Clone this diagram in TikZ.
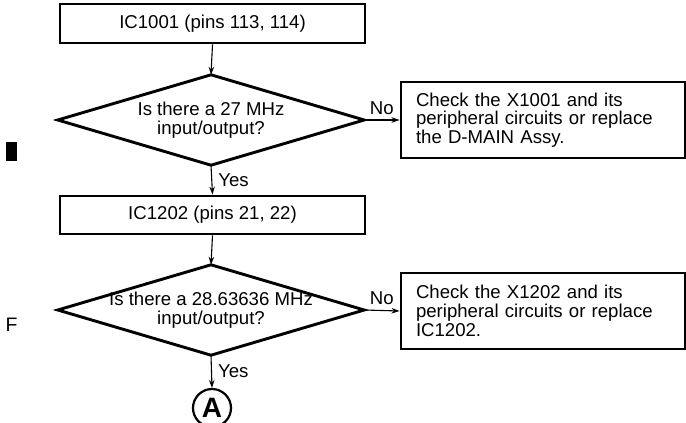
\documentclass[tikz,border=0pt]{standalone}
\usepackage{fontspec}
\setmainfont{Liberation Sans}
\usetikzlibrary{shapes.geometric,arrows.meta}
\tikzset{
  txt/.style={font=\fontsize{18.6}{18.7}\selectfont},
  procbox/.style={draw, line width=2.9pt, rectangle, inner sep=0pt, txt, align=center},
  notebox/.style={draw, line width=2.9pt, rectangle, minimum width=284pt, minimum height=76pt, inner xsep=15pt, inner ysep=0pt, text width=254pt, align=left, txt},
  decis/.style={rectangle, minimum width=306pt, minimum height=90pt, inner sep=0pt, align=center, txt},
  decline/.style={line width=2.9pt, line join=miter},
  arr/.style={line width=1.1pt, -{Stealth[length=8pt,width=5.5pt]}},
  lbl/.style={txt, inner sep=0pt},
}
\begin{document}
\begin{tikzpicture}[x=1pt,y=-1pt]
\useasboundingbox (0,0) rectangle (686,423);
\node[procbox, minimum width=305pt, minimum height=39pt] (b1) at (212.5,23.5) {IC1001 (pins 113, 114)};
\node[decis] (d1) at (211,120) {Is there a 27 MHz\\input/output?};
\draw[decline] (d1.west) -- (d1.north) -- (d1.east) -- (d1.south) -- cycle;
\node[notebox] (c1) at (543,120) {Check the X1001 and its\\peripheral circuits or replace\\the D-MAIN Assy.};
\node[procbox, minimum width=305pt, minimum height=38pt] (b2) at (212.5,215) {IC1202 (pins 21, 22)};
\node[decis] (d2) at (211,310) {Is there a 28.63636 MHz\\input/output?};
\draw[decline] (d2.west) -- (d2.north) -- (d2.east) -- (d2.south) -- cycle;
\node[notebox] (c2) at (543,311) {Check the X1202 and its\\peripheral circuits or replace\\IC1202.};
\node[circle, draw, line width=2.2pt, minimum size=38pt, inner sep=0pt, font=\fontsize{28}{28}\selectfont\bfseries] (a) at (212,408) {A};
\draw[arr] (b1.south) -- (d1.north);
\draw[arr] (d1.south) -- node[lbl, right=6pt] {Yes} (b2.north);
\draw[arr] (d1.east) -- node[lbl, above=5pt] {No} (c1.west);
\draw[arr] (b2.south) -- (d2.north);
\draw[arr] (d2.east) -- node[lbl, above=5pt] {No} (c2.west);
\draw[arr] (d2.south) -- node[lbl, right=6pt] {Yes} (a.north);
\fill (6,142) rectangle (17,161);
\node[font=\fontsize{19.5}{19.5}\selectfont, inner sep=0pt] (f) at (11.5,325) {F};
\end{tikzpicture}
\end{document}
